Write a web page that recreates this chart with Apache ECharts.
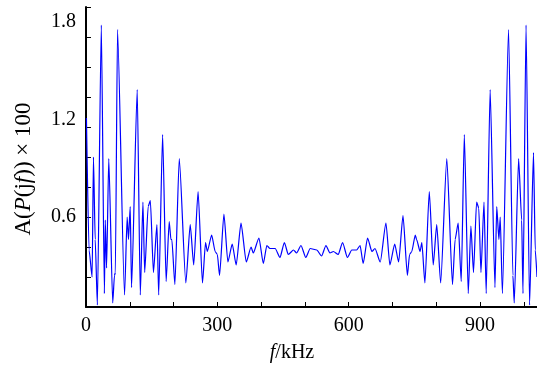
<!DOCTYPE html>
<html>
<head>
<meta charset="utf-8">
<script src="https://cdn.jsdelivr.net/npm/echarts@6/dist/echarts.min.js"></script>
<style>html,body{margin:0;padding:0;background:#fff}#c{width:537px;height:366px}</style>
</head>
<body>
<div id="c"></div>
<script>
// frequency (kHz) of curve vertices
var freq = [1,7,14,17,21,26,35,42,44,47,52,61,65,67,72,88,94,97,101,104,117,124,130,134,142,147,154,162,166,175,183,190,194,196,203,213,228,238,246,256,266,273,277,287,295,300,305,315,324,334,343,354,366,377,382,395,405,413,420,432,443,453,462,474,481,491,502,512,527,538,548,557,565,576,586,597,607,618,626,633,643,653,660,672,685,694,705,714,724,734,739,744,752,755,763,767,774,784,793,801,810,824,837,843,850,857,864,873,879,885,892,897,902,909,914,923,934,938,943,946,951,965,975,978,988,995,998,1005,1013,1022,1026,1030];
// amplitude values A(P(jf))x100
var amp = [1.26,0.38,0.20,1.00,0.45,0.013,1.88,0.09,0.58,0.26,0.99,0.027,0.21,0.23,1.85,0.08,0.60,0.45,0.67,0.13,1.45,0.08,0.70,0.23,0.67,0.71,0.23,0.55,0.08,1.15,0.17,0.57,0.45,0.45,0.15,0.99,0.16,0.55,0.28,0.77,0.16,0.43,0.37,0.48,0.37,0.35,0.21,0.62,0.30,0.42,0.28,0.56,0.30,0.40,0.36,0.46,0.29,0.41,0.39,0.39,0.33,0.43,0.35,0.38,0.36,0.41,0.33,0.39,0.38,0.34,0.41,0.36,0.37,0.35,0.43,0.33,0.38,0.38,0.41,0.29,0.46,0.37,0.39,0.30,0.56,0.28,0.42,0.30,0.61,0.21,0.35,0.37,0.48,0.45,0.37,0.43,0.16,0.77,0.28,0.55,0.16,0.99,0.15,0.45,0.56,0.17,1.15,0.09,0.54,0.23,0.70,0.66,0.23,0.70,0.09,1.45,0.13,0.67,0.45,0.60,0.09,1.85,0.21,0.027,0.99,0.58,0.09,1.88,0.013,1.03,0.38,0.20];
var xTickVals = [0,100,200,300,400,500,600,700,800,900,1000];
var xLabelVals = [0,300,600,900];
var yTickVals = [0.2,0.4,0.6,0.8,1.0,1.2,1.4,1.6,1.8,2.0];
var yLabelText = ['0.6','1.2','1.8'];
var yLabelPos = [0.6,1.247,1.9];

var data = freq.map(function(f,i){return [f, amp[i]];});
var chart = echarts.init(document.getElementById('c'));
var font = 'Liberation Serif';
chart.setOption({
  animation:false,
  grid:{left:86,right:0,top:7,bottom:59},
  xAxis:{type:'value',min:0,max:1030,
    axisLine:{show:true,onZero:false,lineStyle:{color:'#000',width:2}},
    axisTick:{show:true,inside:true,length:5,customValues:xTickVals,lineStyle:{color:'#000',width:1}},
    axisLabel:{customValues:xLabelVals,color:'#000',fontFamily:font,fontSize:20,margin:9},
    splitLine:{show:false}},
  yAxis:{type:'value',min:0,max:2,
    axisLine:{show:true,lineStyle:{color:'#000',width:2}},
    axisTick:{show:true,inside:true,length:5,customValues:yTickVals,lineStyle:{color:'#000',width:1}},
    axisLabel:{customValues:yLabelPos,color:'#000',fontFamily:font,fontSize:20,margin:10,
      formatter:function(v){var i=yLabelPos.indexOf(v);return i>=0?yLabelText[i]:'';}},
    splitLine:{show:false}},
  graphic:[
    {type:'text',x:292,y:353,style:{text:'{i|f}/kHz',align:'center',verticalAlign:'middle',fill:'#000',font:'20px "Liberation Serif"',
      rich:{i:{fontStyle:'italic',fontFamily:font,fontSize:20,fill:'#000'}}}},
    {type:'text',x:24,y:169,rotation:Math.PI/2,style:{text:'A({i|P}(j{i|f})) × 100',align:'center',verticalAlign:'middle',fill:'#000',font:'23px "Liberation Serif"',
      rich:{i:{fontStyle:'italic',fontFamily:font,fontSize:23,fill:'#000'}}}}
  ],
  series:[{type:'line',data:data,showSymbol:false,smooth:0.2,smoothMonotone:'x',clip:true,
    lineStyle:{color:'#0000ff',width:1.2}}]
});
</script>
</body>
</html>
